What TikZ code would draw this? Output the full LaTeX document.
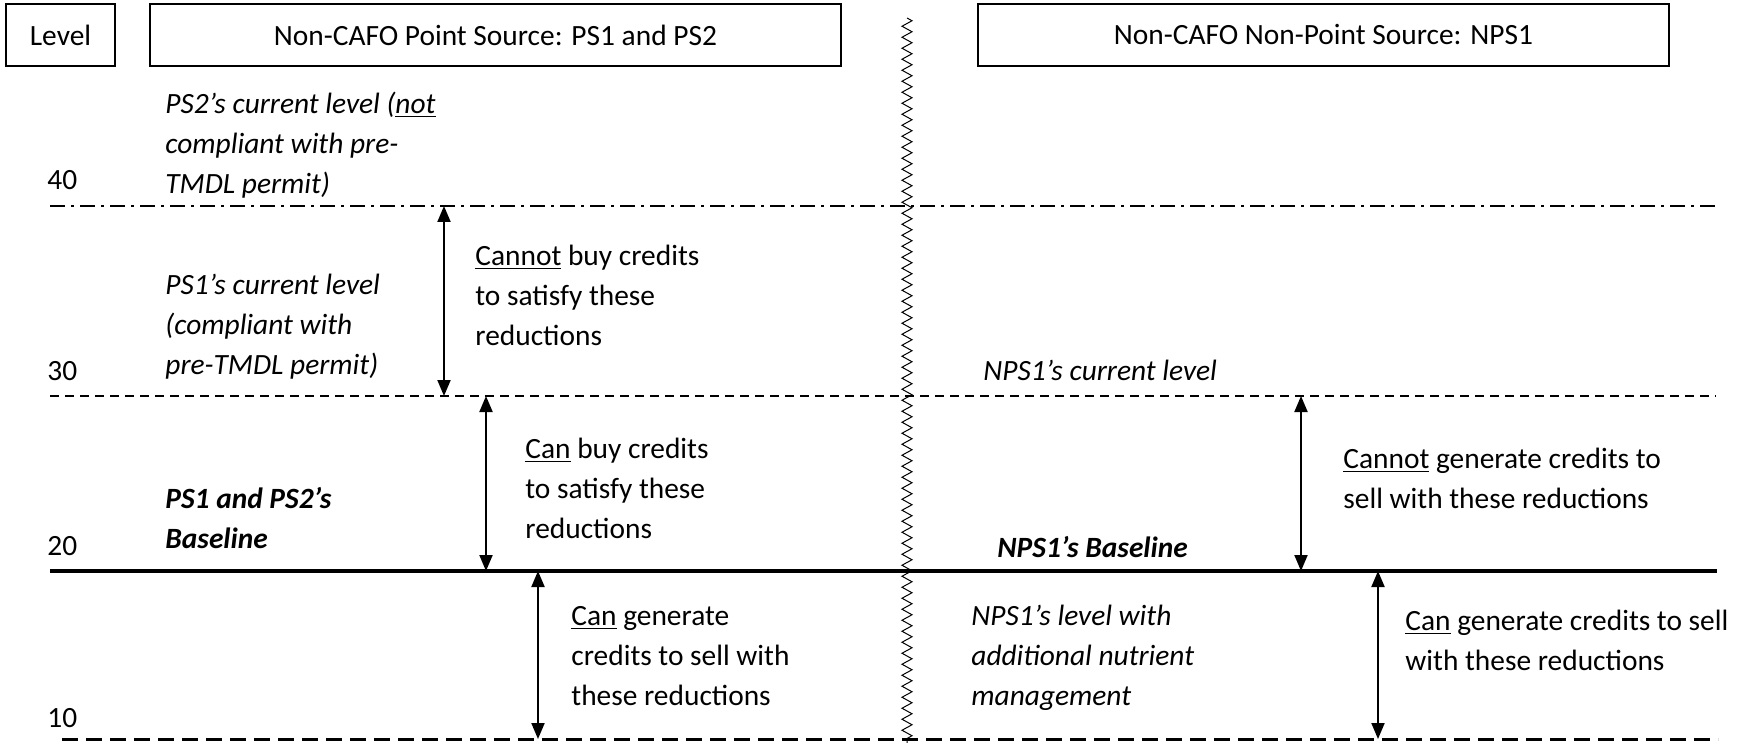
\documentclass[tikz,border=0pt]{standalone}
\usepackage{fontspec}
\setmainfont{Carlito}
\usetikzlibrary{arrows.meta,decorations.pathmorphing}
\begin{document}
\begin{tikzpicture}[x=0.5pt,y=-0.5pt,
  txt/.style={inner sep=0pt, anchor=north west, align=left, font=\fontsize{14.7}{20}\selectfont},
  itx/.style={txt, font=\fontsize{14.7}{20}\selectfont\itshape},
  bitx/.style={txt, font=\fontsize{14.7}{20}\selectfont\bfseries\itshape},
  lvl/.style={inner sep=0pt, anchor=base west, font=\fontsize{14.7}{20}\selectfont},
  hdr/.style={draw, line width=1pt, inner sep=0pt, minimum height=31pt, font=\fontsize{14.7}{20}\selectfont},
  dbl/.style={line width=1pt, {Triangle[length=8pt,width=6.5pt]}-{Triangle[length=8pt,width=6.5pt]}},
  ddline/.style={line width=1pt, dash pattern=on 7.5pt off 3pt on 1.5pt off 3pt},
  thinDash/.style={line width=0.65pt, dash pattern=on 4.5pt off 3pt},
  thickDash/.style={line width=1.5pt, dash pattern=on 8pt off 4pt},
  baseLine/.style={line width=2.25pt},
  zz/.style={line width=0.5pt, decorate, decoration={zigzag, segment length=5.5pt, amplitude=2.5pt}},
]
\useasboundingbox (0,0) rectangle (1751,743);

% header boxes
\node[hdr, minimum width=54.5pt] (lev) at (60.5,35) {Level};
\node[hdr, minimum width=345.5pt] (psh) at (495.5,35) {Non-CAFO Point Source: PS1 and PS2};
\node[hdr, minimum width=345.5pt] (npsh) at (1323.5,35) {Non-CAFO Non-Point Source: NPS1};

% level lines
\coordinate (l40a) at (50,206);  \coordinate (l40b) at (1716,206);
\coordinate (l30a) at (50,396);  \coordinate (l30b) at (1716,396);
\coordinate (l20a) at (50,571);  \coordinate (l20b) at (1717,571);
\coordinate (l10a) at (62,739);  \coordinate (l10b) at (1718,739);
\draw[ddline] (l40a) -- (l40b);
\draw[thinDash] (l30a) -- (l30b);
\draw[baseLine] (l20a) -- (l20b);
\draw[thickDash] (l10a) -- (l10b);

% divider
\coordinate (zt) at (907,18); \coordinate (zb) at (907,743);
\draw[zz] (zt) -- (zb);

% level numbers
\node[lvl] (n40) at (47,190) {40};
\node[lvl] (n30) at (47,380) {30};
\node[lvl] (n20) at (47,555) {20};
\node[lvl] (n10) at (47,727) {10};

% arrows
\coordinate (a1t) at (444,206); \coordinate (a1b) at (444,396);
\coordinate (a2t) at (486,396); \coordinate (a2b) at (486,571);
\coordinate (a3t) at (538,571); \coordinate (a3b) at (538,739);
\coordinate (a4t) at (1301,396); \coordinate (a4b) at (1301,571);
\coordinate (a5t) at (1378,571); \coordinate (a5b) at (1378,739);
\draw[dbl] (a1t) -- (a1b);
\draw[dbl] (a2t) -- (a2b);
\draw[dbl] (a3t) -- (a3b);
\draw[dbl] (a4t) -- (a4b);
\draw[dbl] (a5t) -- (a5b);

% left texts
\node[itx] (ps2) at (165,85) {\strut PS2’s current level (\underline{not}\\\strut compliant with pre-\\\strut TMDL permit)};
\node[itx] (ps1) at (165,266) {\strut PS1’s current level\\\strut (compliant with\\\strut pre-TMDL permit)};
\node[bitx] (psb) at (165,480) {\strut PS1 and PS2’s\\\strut Baseline};
\node[txt] (t1) at (475,237) {\strut\underline{Cannot} buy credits\\\strut to satisfy these\\\strut reductions};
\node[txt] (t2) at (525,430) {\strut\underline{Can} buy credits\\\strut to satisfy these\\\strut reductions};
\node[txt] (t3) at (571,597) {\strut\underline{Can} generate\\\strut credits to sell with\\\strut these reductions};

% right texts
\node[itx] (npsc) at (983,352) {\strut NPS1’s current level};
\node[bitx] (npsb) at (997,529) {\strut NPS1’s Baseline};
\node[itx] (npsl) at (971,597) {\strut NPS1’s level with\\\strut additional nutrient\\\strut management};
\node[txt] (t4) at (1343,440) {\strut\underline{Cannot} generate credits to\\\strut sell with these reductions};
\node[txt] (t5) at (1405,602) {\strut\underline{Can} generate credits to sell\\\strut with these reductions};
\end{tikzpicture}
\end{document}
